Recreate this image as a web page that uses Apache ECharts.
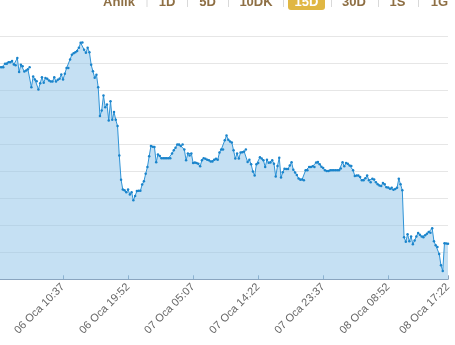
<!DOCTYPE html>
<html><head><meta charset="utf-8">
<script src="https://cdn.jsdelivr.net/npm/echarts@6/dist/echarts.min.js"></script>
<style>html,body{margin:0;padding:0;background:#fff;overflow:hidden}#c{width:455px;height:345px}</style>
</head><body><div id="c"></div>
<script>
// Range selector buttons (top strip)
const rangeButtons = ['Anlık', '1D', '5D', '10DK', '15D', '30D', '1S', '1G'];
const selectedButton = '15D';

// Time sampling: 15-minute points starting 06 Oca 01:22
const monthName = 'Oca';
const startDay = 6;
const startHour = 1;
const startMin = 22;
const stepMinutes = 15;

// Labelled ticks every 37 points (9h15m) plus the last point
const tickEvery = 37;
const tickLabels = ['06 Oca 01:22', '06 Oca 10:37', '06 Oca 19:52', '07 Oca 05:07', '07 Oca 14:22', '07 Oca 23:37', '08 Oca 08:52', '08 Oca 17:22'];

// Values (grid step = 1 unit)
const prices = [
  27.86, 27.86, 27.86, 27.86, 27.99, 27.99, 28.05, 28.05, 28.09, 27.96,
  27.93, 28.20, 27.68, 27.95, 27.90, 27.70, 27.74, 27.79, 27.86, 27.12,
  27.52, 27.41, 27.34, 27.04, 27.27, 27.49, 27.29, 27.46, 27.43, 27.37,
  27.33, 27.33, 27.49, 27.33, 27.40, 27.43, 27.59, 27.41, 27.62, 27.83,
  27.83, 28.15, 28.32, 28.38, 28.42, 28.46, 28.58, 28.77, 28.78, 28.51,
  28.40, 28.58, 28.42, 27.95, 27.71, 27.47, 27.58, 27.12, 26.05, 26.26,
  26.81, 26.38, 26.48, 25.89, 26.60, 25.91, 26.20, 25.91, 25.68, 24.59,
  23.69, 23.33, 23.30, 23.23, 23.33, 23.14, 23.23, 22.93, 23.09, 23.27,
  23.28, 23.28, 23.51, 23.63, 23.91, 24.16, 24.56, 24.94, 24.91, 24.90,
  24.34, 24.63, 24.57, 24.49, 24.49, 24.49, 24.49, 24.49, 24.49, 24.66,
  24.78, 24.88, 25.00, 25.00, 24.94, 25.00, 24.81, 24.41, 24.66, 24.59,
  24.66, 24.31, 24.33, 24.31, 24.28, 24.19, 24.41, 24.49, 24.47, 24.43,
  24.41, 24.37, 24.37, 24.43, 24.47, 24.43, 24.70, 24.81, 24.81, 25.15,
  25.33, 25.17, 25.11, 25.07, 24.78, 24.48, 24.66, 24.48, 24.70, 24.71,
  24.74, 24.81, 24.35, 24.43, 24.26, 24.00, 23.85, 24.26, 24.31, 24.52,
  24.48, 24.41, 24.16, 24.43, 24.32, 24.33, 24.41, 24.28, 23.81, 24.20,
  24.51, 23.77, 23.97, 24.10, 24.09, 24.09, 24.22, 24.34, 24.06, 23.96,
  23.87, 23.74, 23.69, 23.70, 23.67, 24.04, 24.04, 24.16, 24.16, 24.19,
  24.16, 24.33, 24.35, 24.26, 24.17, 24.13, 24.04, 24.01, 24.01, 24.04,
  24.04, 24.04, 24.04, 24.04, 24.04, 24.11, 24.34, 24.19, 24.31, 24.28,
  24.22, 24.20, 24.04, 23.83, 23.85, 23.85, 23.79, 23.67, 23.67, 23.75,
  23.85, 23.67, 23.60, 23.73, 23.70, 23.60, 23.52, 23.48, 23.46, 23.57,
  23.52, 23.41, 23.40, 23.36, 23.39, 23.32, 23.35, 23.39, 23.73, 23.52,
  23.30, 21.56, 21.39, 21.67, 21.41, 21.59, 21.30, 21.44, 21.59, 21.72,
  21.65, 21.59, 21.56, 21.63, 21.69, 21.75, 21.73, 21.89, 21.41, 21.26,
  21.20, 20.94, 20.52, 20.31, 21.34, 21.33, 21.32
];

const yMin = 20, yMax = 29, yStep = 1;

function pad(n) { return (n < 10 ? '0' : '') + n; }
const categories = prices.map(function (_, i) {
  const total = startHour * 60 + startMin + i * stepMinutes;
  const day = startDay + Math.floor(total / 1440);
  const m = total % 1440;
  return pad(day) + ' ' + monthName + ' ' + pad(Math.floor(m / 60)) + ':' + pad(m % 60);
});
const lastIdx = categories.length - 1;
function isTick(idx) { return idx % tickEvery === 0 || idx === lastIdx; }

// Button strip layout
const btnCenters = [119, 167, 207.5, 256, 306.5, 354, 397.5, 439.5];
const sepXs = [146.5, 187, 228, 283, 331, 378, 418];
const graphics = [];
sepXs.forEach(function (x) {
  graphics.push({ type: 'rect', left: x, top: -2, shape: { width: 1, height: 9 }, style: { fill: '#d9d9d9' }, silent: true });
});
rangeButtons.forEach(function (t, k) {
  const sel = t === selectedButton;
  if (sel) {
    graphics.push({ type: 'rect', left: btnCenters[k] - 18.5, top: -6, shape: { width: 37, height: 16, r: 3 }, style: { fill: '#e0b743' }, silent: true });
  }
  graphics.push({
    type: 'text', x: btnCenters[k], y: 2, silent: true,
    style: { text: t, fill: sel ? '#ffffff' : '#8e6f44', font: 'bold 13px "Liberation Sans", Arial, sans-serif', align: 'center', verticalAlign: 'middle' }
  });
});

const chart = echarts.init(document.getElementById('c'), null, { renderer: 'canvas' });
chart.setOption({
  animation: false,
  backgroundColor: '#ffffff',
  grid: { left: -2, right: 7, top: 36.5, bottom: 65.7, containLabel: false, outerBoundsMode: 'none' },
  xAxis: {
    type: 'category',
    data: categories,
    boundaryGap: false,
    axisLine: { lineStyle: { color: '#8aa3bb', width: 1 } },
    axisTick: { inside: true, length: 4, interval: function (idx) { return isTick(idx); }, lineStyle: { color: '#8aa3bb' } },
    axisLabel: {
      interval: function (idx) { return isTick(idx); },
      rotate: 45, margin: 6, color: '#666666', fontSize: 11,
      fontFamily: '"Liberation Sans", Arial, sans-serif'
    },
    splitLine: { show: false }
  },
  yAxis: {
    type: 'value', min: yMin, max: yMax, interval: yStep,
    axisLabel: { show: false }, axisLine: { show: false }, axisTick: { show: false },
    splitLine: { lineStyle: { color: '#e6e6e6', width: 1 } }
  },
  series: [{
    type: 'line',
    data: prices,
    symbol: 'circle', symbolSize: 2.5, showSymbol: true, showAllSymbol: true,
    lineStyle: { color: '#2f93d6', width: 1 },
    itemStyle: { color: '#1a84cb' },
    areaStyle: { color: 'rgba(139,193,231,0.5)', opacity: 1 },
    emphasis: { disabled: true }
  }],
  graphic: graphics
});
</script>
</body></html>
